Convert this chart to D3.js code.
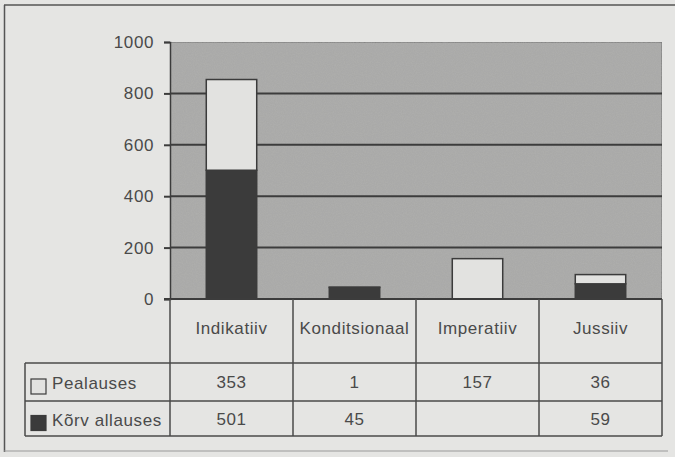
<!DOCTYPE html>
<html>
<head>
<meta charset="utf-8">
<script src="https://cdn.jsdelivr.net/npm/d3@7"></script>
<style>
  body { margin: 0; background: #e5e5e3; }
  svg { display: block; }
  text { font-family: "Liberation Sans", Arial, sans-serif; fill: #4a4a4a; font-size: 17px; letter-spacing: 0.6px; }
</style>
</head>
<body>
<div id="chart"></div>
<script>
var categories = ["Indikatiiv", "Konditsionaal", "Imperatiiv", "Jussiiv"];
var seriesNames = ["Pealauses", "Kõrv allauses"];
var pealauses = [353, 1, 157, 36];
var korvallauses = [501, 45, null, 59];
var yTicks = [0, 200, 400, 600, 800, 1000];

var width = 675, height = 457;
var plotLeft = 170, plotRight = 662, plotTop = 42, plotBottom = 299;
var headerBottom = 363, row1Bottom = 401, row2Bottom = 436, tableLeft = 25;

var svg = d3.select("#chart").append("svg")
    .attr("width", width)
    .attr("height", height);

// scanned paper grain
var defs = svg.append("defs");
var f = defs.append("filter").attr("id", "grain").attr("x", 0).attr("y", 0).attr("width", "100%").attr("height", "100%");
f.append("feTurbulence").attr("type", "fractalNoise").attr("baseFrequency", 0.9).attr("numOctaves", 2).attr("seed", 3).attr("result", "n");
f.append("feColorMatrix").attr("in", "n").attr("type", "matrix")
    .attr("values", "0 0 0 0 0.5  0 0 0 0 0.5  0 0 0 0 0.5  0 0 0 0.35 -0.05").attr("result", "nm");
f.append("feComposite").attr("in", "nm").attr("in2", "SourceGraphic").attr("operator", "in").attr("result", "nc");
f.append("feMerge").selectAll("feMergeNode").data(["SourceGraphic", "nc"]).enter()
    .append("feMergeNode").attr("in", function (d) { return d; });

// outer frame
svg.append("rect").attr("width", width).attr("height", height).attr("fill", "#e5e5e3");
svg.append("line").attr("x1", 4).attr("x2", width).attr("y1", 5).attr("y2", 5)
    .attr("stroke", "#555").attr("stroke-width", 1.5);
svg.append("line").attr("x1", 4.5).attr("x2", 4.5).attr("y1", 5).attr("y2", 452)
    .attr("stroke", "#555").attr("stroke-width", 1.5);
svg.append("line").attr("x1", 4).attr("x2", 668).attr("y1", 451).attr("y2", 451)
    .attr("stroke", "#999").attr("stroke-width", 1);

var x = d3.scaleBand().domain(categories).range([plotLeft, plotRight]).paddingInner(0).paddingOuter(0);
var y = d3.scaleLinear().domain([0, 1000]).range([plotBottom, plotTop]);

// plot area
svg.append("rect")
    .attr("x", plotLeft).attr("y", plotTop)
    .attr("width", plotRight - plotLeft).attr("height", plotBottom - plotTop)
    .attr("fill", "#a9a9a7").attr("stroke", "#666").attr("stroke-width", 1)
    .attr("filter", "url(#grain)");

// gridlines
svg.append("g").selectAll("line")
    .data(yTicks.filter(function (d) { return d > 0 && d < 1000; }))
    .enter().append("line")
    .attr("x1", plotLeft).attr("x2", plotRight)
    .attr("y1", function (d) { return y(d); }).attr("y2", function (d) { return y(d); })
    .attr("stroke", "#3c3c3c").attr("stroke-width", 2);

// y axis
var yAxis = svg.append("g")
    .attr("transform", "translate(" + plotLeft + ",0)")
    .call(d3.axisLeft(y).tickValues(yTicks).tickFormat(d3.format("d")).tickSize(6).tickPadding(10));
yAxis.select(".domain").attr("stroke", "#3c3c3c").attr("stroke-width", 1.5);
yAxis.selectAll(".tick line").attr("stroke", "#3c3c3c").attr("stroke-width", 2);
yAxis.selectAll(".tick text").attr("font-size", null).attr("font-family", null).attr("fill", "#4a4a4a");

// stacked bars
var rows = categories.map(function (c, i) {
    return { cat: c, k: korvallauses[i] || 0, p: pealauses[i] || 0 };
});
var stack = d3.stack().keys(["k", "p"])(rows);
var fills = { k: "#3b3b3b", p: "#e2e2e0" };
var barW = x.bandwidth() * 0.41;

svg.append("g").selectAll("g")
    .data(stack).enter().append("g")
    .each(function (s) {
        d3.select(this).selectAll("rect")
            .data(s.filter(function (d) { return d[1] - d[0] > 0; }))
            .enter().append("rect")
            .attr("x", function (d) { return x(d.data.cat) + (x.bandwidth() - barW) / 2; })
            .attr("width", barW)
            .attr("y", function (d) { return y(d[1]); })
            .attr("height", function (d) { return y(d[0]) - y(d[1]); })
            .attr("fill", fills[s.key])
            .attr("stroke", "#3b3b3b").attr("stroke-width", 1.5);
    });

// baseline
svg.append("line").attr("x1", plotLeft - 6).attr("x2", plotRight)
    .attr("y1", y(0)).attr("y2", y(0)).attr("stroke", "#3c3c3c").attr("stroke-width", 2);

// data table
var tbl = svg.append("g").attr("stroke", "#4a4a4a").attr("stroke-width", 1.5);
var colEdges = categories.map(function (c) { return x(c); }).concat([plotRight]);
tbl.selectAll("line.v").data(colEdges).enter().append("line")
    .attr("x1", function (d) { return d; }).attr("x2", function (d) { return d; })
    .attr("y1", plotBottom).attr("y2", row2Bottom);
tbl.selectAll("line.h").data([headerBottom, row1Bottom, row2Bottom]).enter().append("line")
    .attr("x1", tableLeft).attr("x2", plotRight)
    .attr("y1", function (d) { return d; }).attr("y2", function (d) { return d; });
tbl.append("line").attr("x1", tableLeft).attr("x2", tableLeft).attr("y1", headerBottom).attr("y2", row2Bottom);

svg.append("g").selectAll("text")
    .data(categories).enter().append("text")
    .attr("x", function (d) { return x(d) + x.bandwidth() / 2; })
    .attr("y", (plotBottom + headerBottom) / 2 + 3)
    .attr("text-anchor", "middle")
    .text(function (d) { return d; });

var tableRows = [
    { name: seriesNames[0], vals: pealauses, fill: fills.p, top: headerBottom, bottom: row1Bottom },
    { name: seriesNames[1], vals: korvallauses, fill: fills.k, top: row1Bottom, bottom: row2Bottom }
];
tableRows.forEach(function (r) {
    var cy = (r.top + r.bottom) / 2;
    svg.append("rect").attr("x", tableLeft + 6).attr("y", cy - 3).attr("width", 15).attr("height", 15)
        .attr("fill", r.fill).attr("stroke", "#3b3b3b").attr("stroke-width", 1.2);
    svg.append("text").attr("x", tableLeft + 27).attr("y", cy + 7)
        .text(r.name);
    svg.append("g").selectAll("text")
        .data(r.vals).enter().append("text")
        .attr("x", function (d, i) { return x(categories[i]) + x.bandwidth() / 2; })
        .attr("y", cy + 6)
        .attr("text-anchor", "middle")
        .text(function (d) { return d == null ? "" : d; });
});
</script>
</body>
</html>
